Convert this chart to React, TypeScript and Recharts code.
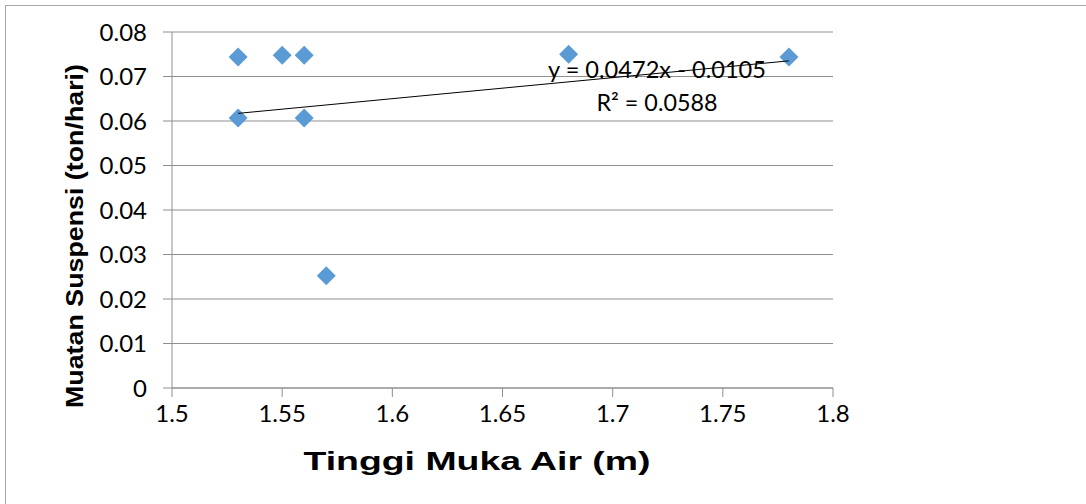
import React from "react";
import { ComposedChart, Scatter, XAxis, YAxis, CartesianGrid, Customized } from "recharts";

const xValues = [1.53, 1.55, 1.56, 1.53, 1.56, 1.57, 1.68, 1.78];
const yValues = [0.0744, 0.0748, 0.0748, 0.0607, 0.0607, 0.0252, 0.075, 0.0744];
const xTicks = [1.5, 1.55, 1.6, 1.65, 1.7, 1.75, 1.8];
const yTicks = [0, 0.01, 0.02, 0.03, 0.04, 0.05, 0.06, 0.07, 0.08];
const trendSlope = 0.0472;
const trendIntercept = -0.0105;
const trendRange = [1.53, 1.78];
const xTitle = "Tinggi Muka Air (m)";
const yTitle = "Muatan Suspensi (ton/hari)";
const eqLine1 = "y = 0.0472x - 0.0105";
const eqLine2 = "R² = 0.0588";

const points = xValues.map((x, i) => ({ x, y: yValues[i] }));
const trend = trendRange.map((x) => ({ x, y: trendSlope * x + trendIntercept }));

const BLUE = "#5B9BD5";
const GRID = "#8f8f8f";
const FONT = "Lato, 'Open Sans', sans-serif";

const Diamond = (props: any) => {
  const { cx, cy } = props;
  if (cx == null || cy == null) return <g />;
  const r = 9.5;
  return (
    <polygon
      points={`${cx},${cy - r} ${cx + r},${cy} ${cx},${cy + r} ${cx - r},${cy}`}
      fill={BLUE}
    />
  );
};

const NoShape = () => <g />;

const fmt = (v: number) => String(v);

const Titles = () => (
  <g>
    <text
      x={477}
      y={470}
      textAnchor="middle"
      fontFamily="'Liberation Sans', Arial, sans-serif"
      fontWeight="bold"
      fontSize={26}
      fill="#000"
      textLength={347}
      lengthAdjust="spacingAndGlyphs"
    >
      {xTitle}
    </text>
    <text
      x={0}
      y={0}
      transform="translate(83,236) rotate(-90)"
      textAnchor="middle"
      fontFamily="'Liberation Sans', Arial, sans-serif"
      fontWeight="bold"
      fontSize={23}
      fill="#000"
      textLength={344}
      lengthAdjust="spacingAndGlyphs"
    >
      {yTitle}
    </text>
    <text
      x={657}
      y={78}
      textAnchor="middle"
      fontFamily={FONT}
      fontSize={24}
      fill="#000"
      textLength={218}
      lengthAdjust="spacingAndGlyphs"
    >
      {eqLine1}
    </text>
    <text
      x={657}
      y={111}
      textAnchor="middle"
      fontFamily={FONT}
      fontSize={24}
      fill="#000"
      textLength={121}
      lengthAdjust="spacingAndGlyphs"
    >
      {eqLine2}
    </text>
  </g>
);

export default function App() {
  return (
    <div
      style={{
        position: "absolute",
        left: 0,
        top: 0,
        width: 1086,
        height: 504,
        overflow: "hidden",
        background: "#fff",
      }}
    >
      <div
        style={{
          position: "absolute",
          left: 5,
          top: 5,
          width: 1200,
          height: 600,
          borderLeft: "1.5px solid #a6a6a6",
          borderTop: "1.5px solid #a6a6a6",
        }}
      />
      <div style={{ position: "absolute", left: 0, top: 0 }}>
        <ComposedChart
          width={1086}
          height={504}
          margin={{ top: 32, right: 253, bottom: 0, left: 0 }}
        >
          <CartesianGrid vertical={false} stroke={GRID} strokeWidth={1} />
          <XAxis
            type="number"
            dataKey="x"
            domain={[1.5, 1.8]}
            ticks={xTicks}
            tickFormatter={fmt}
            height={116}
            stroke={GRID}
            tickSize={9}
            tickMargin={8}
            tick={{ fill: "#000", fontSize: 24, fontFamily: FONT }}
            allowDataOverflow
          />
          <YAxis
            type="number"
            dataKey="y"
            domain={[0, 0.08]}
            ticks={yTicks}
            tickFormatter={fmt}
            width={172}
            stroke={GRID}
            tickSize={9}
            tickMargin={16}
            tick={{ fill: "#000", fontSize: 24, fontFamily: FONT }}
            allowDataOverflow
          />
          <Scatter data={points} shape={Diamond} isAnimationActive={false} />
          <Scatter
            data={trend}
            shape={NoShape}
            line={{ stroke: "#000", strokeWidth: 1 }}
            isAnimationActive={false}
          />
          <Customized component={Titles} />
        </ComposedChart>
      </div>
    </div>
  );
}
